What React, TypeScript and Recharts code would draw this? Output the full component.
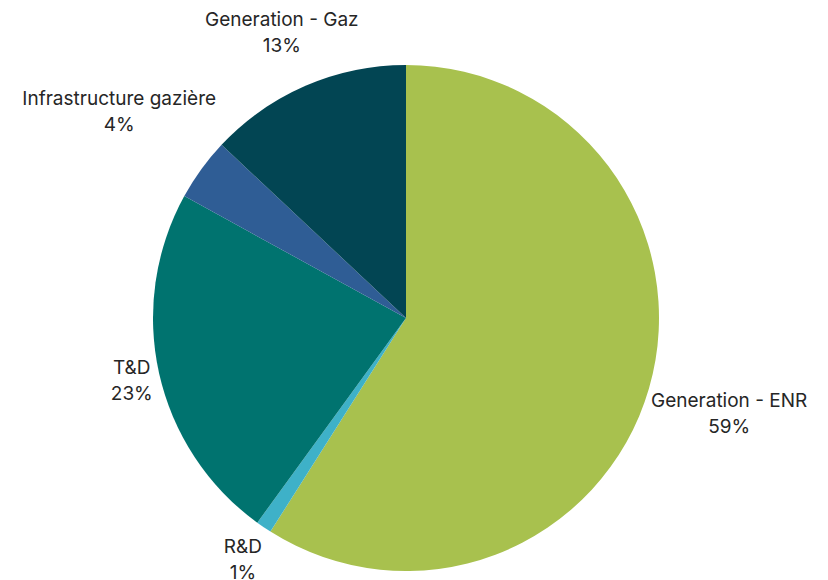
import { Cell, Pie, PieChart } from 'recharts'

const categories = ['Generation - ENR', 'R&D', 'T&D', 'Infrastructure gazière', 'Generation - Gaz']
const shares = [59, 1, 23, 4, 13]
const colors = ['#a8c14e', '#3eb1c8', '#00736f', '#2f5d95', '#024553']

const data = categories.map((name, i) => ({ name, value: shares[i] }))

const RAD = Math.PI / 180
const FONT = 19

function renderLabel(props: any) {
  const { cx, cy, midAngle, outerRadius, name, percent } = props
  const cos = Math.cos(-midAngle * RAD)
  const sin = Math.sin(-midAngle * RAD)
  const halfW = (name.length * FONT * 0.52) / 2
  const halfH = 24
  const r = outerRadius + 10 + 0.88 * halfW * Math.abs(cos) + halfH * Math.abs(sin)
  const x = cx + r * cos
  const y = cy + r * sin
  return (
    <text x={x} y={y} textAnchor="middle" fill="#262626" fontSize={FONT} fontFamily="Inter, sans-serif">
      <tspan x={x} dy={-5}>{name}</tspan>
      <tspan x={x} dy={26}>{`${Math.round(percent * 100)}%`}</tspan>
    </text>
  )
}

export default function App() {
  return (
    <div style={{ position: 'absolute', left: 0, top: 0, background: '#fff' }}>
      <PieChart width={828} height={580} margin={{ top: 0, right: 0, bottom: 0, left: 0 }}>
        <Pie
          data={data}
          dataKey="value"
          nameKey="name"
          cx={406}
          cy={318}
          outerRadius={253}
          startAngle={90}
          endAngle={-270}
          stroke="none"
          label={renderLabel}
          labelLine={false}
          isAnimationActive={false}
        >
          {data.map((d, i) => (
            <Cell key={d.name} fill={colors[i]} />
          ))}
        </Pie>
      </PieChart>
    </div>
  )
}
